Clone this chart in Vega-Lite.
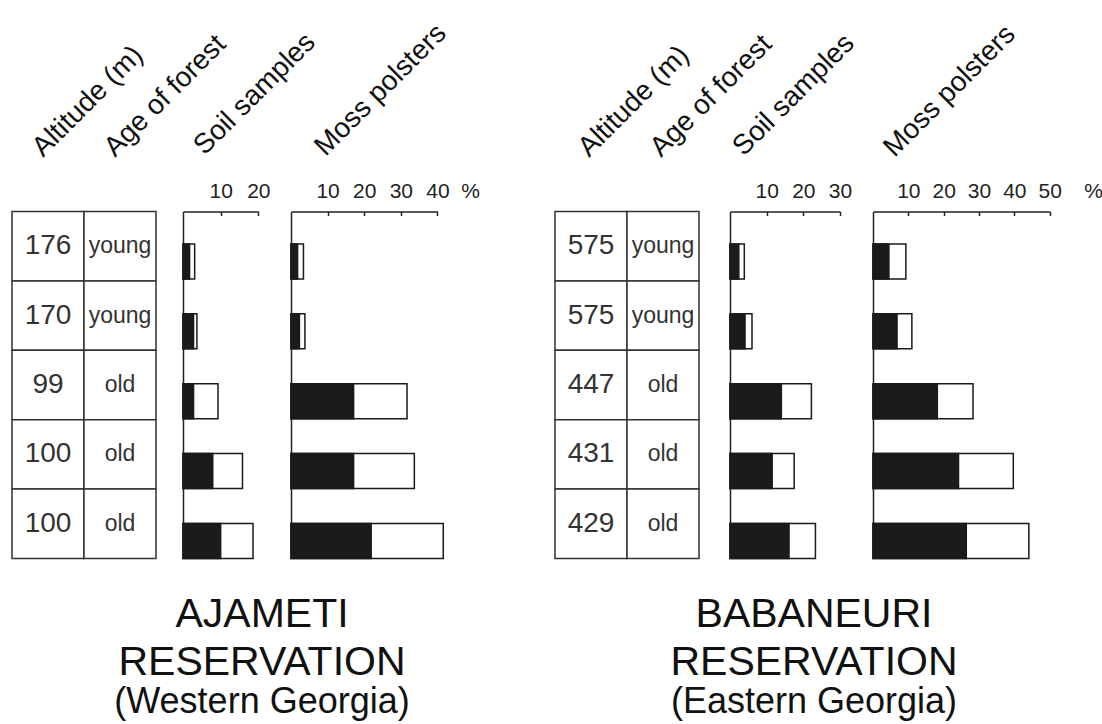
{
  "$schema": "https://vega.github.io/schema/vega-lite/v6.json",
  "background": "white",
  "padding": {"left": 11, "top": 18.5, "right": 5, "bottom": 3},
  "config": {
    "view": {"stroke": null},
    "font": "Liberation Sans",
    "axis": {
      "domainColor": "#222", "domainWidth": 1.5, "tickColor": "#222", "tickWidth": 1.5,
      "labelFont": "Liberation Sans", "labelColor": "#222", "grid": false,
      "titleFont": "Liberation Sans", "titleFontWeight": "normal"
    },
    "title": {"font": "Liberation Sans", "subtitleFont": "Liberation Sans"}
  },
  "datasets": {
    "ajameti": [
      {"plot": 1, "Altitude (m)": 176, "Age of forest": "young", "soil_dark": 1.75, "soil_total": 3.1, "moss_dark": 1.8, "moss_total": 3.4},
      {"plot": 2, "Altitude (m)": 170, "Age of forest": "young", "soil_dark": 2.8, "soil_total": 3.7, "moss_dark": 2.3, "moss_total": 3.8},
      {"plot": 3, "Altitude (m)": 99, "Age of forest": "old", "soil_dark": 2.8, "soil_total": 9.3, "moss_dark": 17.1, "moss_total": 31.7},
      {"plot": 4, "Altitude (m)": 100, "Age of forest": "old", "soil_dark": 7.9, "soil_total": 15.8, "moss_dark": 17.1, "moss_total": 33.7},
      {"plot": 5, "Altitude (m)": 100, "Age of forest": "old", "soil_dark": 10.0, "soil_total": 18.6, "moss_dark": 21.9, "moss_total": 41.6}
    ],
    "babaneuri": [
      {"plot": 1, "Altitude (m)": 575, "Age of forest": "young", "soil_dark": 2.4, "soil_total": 3.9, "moss_dark": 4.5, "moss_total": 9.3},
      {"plot": 2, "Altitude (m)": 575, "Age of forest": "young", "soil_dark": 4.1, "soil_total": 6.0, "moss_dark": 6.8, "moss_total": 11.0},
      {"plot": 3, "Altitude (m)": 447, "Age of forest": "old", "soil_dark": 14.0, "soil_total": 22.2, "moss_dark": 18.2, "moss_total": 28.3},
      {"plot": 4, "Altitude (m)": 431, "Age of forest": "old", "soil_dark": 11.5, "soil_total": 17.5, "moss_dark": 24.2, "moss_total": 39.7},
      {"plot": 5, "Altitude (m)": 429, "Age of forest": "old", "soil_dark": 16.1, "soil_total": 23.3, "moss_dark": 26.4, "moss_total": 44.1}
    ]
  },
  "bounds": "flush",
  "spacing": 27,
  "hconcat": [
    {
      "title": {
        "text": ["AJAMETI", "RESERVATION"], "subtitle": "(Western Georgia)",
        "orient": "bottom", "anchor": "start", "frame": "group", "align": "center", "dx": 250,
        "offset": 36, "fontSize": 41, "fontWeight": "normal", "color": "#111", "lineHeight": 48,
        "subtitleFontSize": 36, "subtitleColor": "#111", "subtitlePadding": 1
      },
      "width": 144, "height": 347,
      "data": {"name": "ajameti"},
      "transform": [{"fold": ["Altitude (m)", "Age of forest"], "as": ["column", "entry"]}],
      "encoding": {
        "x": {"field": "column", "type": "nominal", "sort": ["Altitude (m)", "Age of forest"],
          "scale": {"paddingInner": 0, "paddingOuter": 0},
          "axis": {"orient": "top", "domain": false, "ticks": false, "bandPosition": 0, "labelOffset": -5,
            "labelAngle": -45, "labelAlign": "left", "labelBaseline": "alphabetic", "labelPadding": 54,
            "labelFontSize": 28, "labelColor": "#111", "labelLimit": 0, "labelOverlap": false, "labelBound": false, "title": null}},
        "y": {"field": "plot", "type": "ordinal", "scale": {"paddingInner": 0, "paddingOuter": 0}, "axis": null}
      },
      "layer": [
        {"mark": {"type": "rect", "fill": "white", "stroke": "#333", "strokeWidth": 1.5}},
        {"mark": {"type": "text", "color": "#333"},
          "encoding": {"text": {"field": "entry"},
            "size": {"field": "column", "type": "ordinal", "scale": {"domain": ["Altitude (m)", "Age of forest"], "range": [28, 23]}, "legend": null}}}
      ]
    },
    {
      "width": 80.3, "height": 347,
      "data": {"name": "ajameti"},
      "transform": [{"fold": ["soil_total", "soil_dark"], "as": ["part", "percent"]}],
      "mark": {"type": "bar", "stroke": "#1b1b1b", "strokeWidth": 1.5},
      "encoding": {
        "y": {"field": "plot", "type": "ordinal", "scale": {"paddingInner": 0.498, "paddingOuter": 0.232, "align": 1},
          "axis": {"orient": "left", "domain": true, "ticks": false, "labels": false, "title": "Soil samples",
            "titleAngle": -45, "titleAlign": "left", "titleBaseline": "alphabetic", "titleX": 21, "titleY": -56,
            "titleFontSize": 28, "titleColor": "#111"}},
        "x": {"field": "percent", "type": "quantitative", "stack": null, "scale": {"domain": [0, 20], "nice": false, "range": [0, 75.3]},
          "axis": {"orient": "top", "values": [10, 20], "tickSize": -4, "labelFontSize": 21, "labelPadding": 18,
            "labelBaseline": "alphabetic", "labelFlush": false, "title": null}},
        "color": {"field": "part", "type": "nominal", "scale": {"domain": ["soil_total", "soil_dark"], "range": ["white", "#1b1b1b"]}, "legend": null}
      }
    },
    {
      "width": 236.4, "height": 347,
      "data": {"name": "ajameti"},
      "transform": [{"fold": ["moss_total", "moss_dark"], "as": ["part", "percent"]}],
      "mark": {"type": "bar", "stroke": "#1b1b1b", "strokeWidth": 1.5},
      "encoding": {
        "y": {"field": "plot", "type": "ordinal", "scale": {"paddingInner": 0.498, "paddingOuter": 0.232, "align": 1},
          "axis": {"orient": "left", "domain": true, "ticks": false, "labels": false, "title": "Moss polsters",
            "titleAngle": -45, "titleAlign": "left", "titleBaseline": "alphabetic", "titleX": 34, "titleY": -55,
            "titleFontSize": 28, "titleColor": "#111"}},
        "x": {"field": "percent", "type": "quantitative", "stack": null, "scale": {"domain": [0, 40], "nice": false, "range": [0, 146.4]},
          "axis": {"orient": "top", "values": [10, 20, 30, 40], "tickSize": -4, "labelFontSize": 21, "labelPadding": 18,
            "labelBaseline": "alphabetic", "labelFlush": false, "title": "%", "titleX": 179, "titleY": -14,
            "titleAlign": "center", "titleBaseline": "alphabetic", "titleFontSize": 21, "titleColor": "#222", "titleAngle": 0}},
        "color": {"field": "part", "type": "nominal", "scale": {"domain": ["moss_total", "moss_dark"], "range": ["white", "#1b1b1b"]}, "legend": null}
      }
    },
    {
      "title": {
        "text": ["BABANEURI", "RESERVATION"], "subtitle": "(Eastern Georgia)",
        "orient": "bottom", "anchor": "start", "frame": "group", "align": "center", "dx": 259,
        "offset": 36, "fontSize": 41, "fontWeight": "normal", "color": "#111", "lineHeight": 48,
        "subtitleFontSize": 36, "subtitleColor": "#111", "subtitlePadding": 1
      },
      "width": 147.6, "height": 347,
      "data": {"name": "babaneuri"},
      "transform": [{"fold": ["Altitude (m)", "Age of forest"], "as": ["column", "entry"]}],
      "encoding": {
        "x": {"field": "column", "type": "nominal", "sort": ["Altitude (m)", "Age of forest"],
          "scale": {"paddingInner": 0, "paddingOuter": 0, "range": [0, 144]},
          "axis": {"orient": "top", "domain": false, "ticks": false, "bandPosition": 0, "labelOffset": -2,
            "labelAngle": -45, "labelAlign": "left", "labelBaseline": "alphabetic", "labelPadding": 54,
            "labelFontSize": 28, "labelColor": "#111", "labelLimit": 0, "labelOverlap": false, "labelBound": false, "title": null}},
        "y": {"field": "plot", "type": "ordinal", "scale": {"paddingInner": 0, "paddingOuter": 0}, "axis": null}
      },
      "layer": [
        {"mark": {"type": "rect", "fill": "white", "stroke": "#333", "strokeWidth": 1.5}},
        {"mark": {"type": "text", "color": "#333"},
          "encoding": {"text": {"field": "entry"},
            "size": {"field": "column", "type": "ordinal", "scale": {"domain": ["Altitude (m)", "Age of forest"], "range": [28, 23]}, "legend": null}}}
      ]
    },
    {
      "width": 115.7, "height": 347,
      "data": {"name": "babaneuri"},
      "transform": [{"fold": ["soil_total", "soil_dark"], "as": ["part", "percent"]}],
      "mark": {"type": "bar", "stroke": "#1b1b1b", "strokeWidth": 1.5},
      "encoding": {
        "y": {"field": "plot", "type": "ordinal", "scale": {"paddingInner": 0.498, "paddingOuter": 0.232, "align": 1},
          "axis": {"orient": "left", "domain": true, "ticks": false, "labels": false, "title": "Soil samples",
            "titleAngle": -45, "titleAlign": "left", "titleBaseline": "alphabetic", "titleX": 13, "titleY": -55,
            "titleFontSize": 28, "titleColor": "#111"}},
        "x": {"field": "percent", "type": "quantitative", "stack": null, "scale": {"domain": [0, 30], "nice": false, "range": [0, 110]},
          "axis": {"orient": "top", "values": [10, 20, 30], "tickSize": -4, "labelFontSize": 21, "labelPadding": 18,
            "labelBaseline": "alphabetic", "labelFlush": false, "title": null}},
        "color": {"field": "part", "type": "nominal", "scale": {"domain": ["soil_total", "soil_dark"], "range": ["white", "#1b1b1b"]}, "legend": null}
      }
    },
    {
      "width": 176.7, "height": 347,
      "data": {"name": "babaneuri"},
      "transform": [{"fold": ["moss_total", "moss_dark"], "as": ["part", "percent"]}],
      "mark": {"type": "bar", "stroke": "#1b1b1b", "strokeWidth": 1.5},
      "encoding": {
        "y": {"field": "plot", "type": "ordinal", "scale": {"paddingInner": 0.498, "paddingOuter": 0.232, "align": 1},
          "axis": {"orient": "left", "domain": true, "ticks": false, "labels": false, "title": "Moss polsters",
            "titleAngle": -45, "titleAlign": "left", "titleBaseline": "alphabetic", "titleX": 21, "titleY": -54,
            "titleFontSize": 28, "titleColor": "#111"}},
        "x": {"field": "percent", "type": "quantitative", "stack": null, "scale": {"domain": [0, 50], "nice": false},
          "axis": {"orient": "top", "values": [10, 20, 30, 40, 50], "tickSize": -4, "labelFontSize": 21, "labelPadding": 18,
            "labelBaseline": "alphabetic", "labelFlush": false, "title": "%", "titleX": 220, "titleY": -14,
            "titleAlign": "center", "titleBaseline": "alphabetic", "titleFontSize": 21, "titleColor": "#222", "titleAngle": 0}},
        "color": {"field": "part", "type": "nominal", "scale": {"domain": ["moss_total", "moss_dark"], "range": ["white", "#1b1b1b"]}, "legend": null}
      }
    }
  ]
}
